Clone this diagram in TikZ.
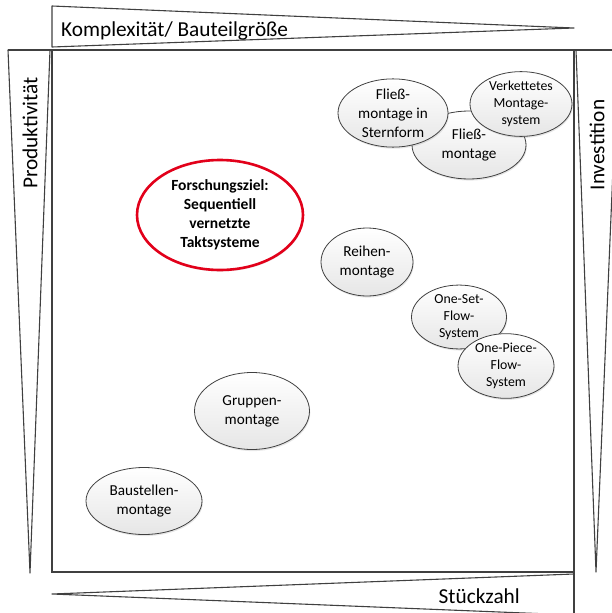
\documentclass[tikz,border=0pt]{standalone}
\usepackage{fontspec}
\setmainfont{Carlito}
\usetikzlibrary{shapes.geometric,shadows}
\definecolor{FrameGray}{HTML}{404040}
\definecolor{BubbleGray}{HTML}{E6E6E6}
\definecolor{TargetRed}{HTML}{E2001A}
\tikzset{
  mgframe/.style={draw=FrameGray, line width=1.3pt},
  mgwedge/.style={draw=FrameGray, line width=1.1pt, line join=round},
  mgaxis/.style={inner sep=0pt, font=\fontsize{21.3}{25}\selectfont},
  mgbubble/.style={
    ellipse,
    draw=FrameGray,
    line width=0.8pt,
    top color=white,
    bottom color=BubbleGray,
    drop shadow={opacity=0.2, shadow xshift=0.8pt, shadow yshift=-1.6pt},
    align=center,
    inner sep=0pt,
    font=\fontsize{15.2}{18.8}\selectfont
  },
  mgsmall/.style={font=\fontsize{13.8}{17}\selectfont},
  mgtarget/.style={
    ellipse,
    draw=TargetRed,
    line width=2.6pt,
    fill=white,
    drop shadow={opacity=0.15, shadow xshift=0.8pt, shadow yshift=-1.6pt},
    align=center,
    inner sep=0pt,
    font=\bfseries\fontsize{15.5}{19}\selectfont
  }
}

\begin{document}
\begin{tikzpicture}[x=1pt, y=-1pt]
  \useasboundingbox (0,0) rectangle (611,613);
  % wedges round the field
  \draw[mgwedge] (52,6) -- (574,28) -- (52,47) -- cycle;
  \draw[mgwedge] (8,50) -- (50,50) -- (30,573) -- cycle;
  \draw[mgwedge] (576,50) -- (618,50) -- (596,572) -- cycle;
  \draw[mgwedge] (574,574) -- (52,594) -- (574,615);
  % field
  \draw[mgframe] (8,50) -- (618,50);
  \draw[mgframe] (52,50) rectangle (574,572);
  \draw[mgframe] (574,572) -- (574,618);

  \node[mgaxis, anchor=west] (complexity) at (61,31) {Komplexität/ Bauteilgröße};
  \node[mgaxis, rotate=90] (productivity) at (30,133) {Produktivität};
  \node[mgaxis, rotate=90] (investment) at (597,145) {Investition};
  \node[mgaxis, anchor=east] (quantity) at (520,596) {Stückzahl};

  % assembly forms
  \node[mgbubble, minimum width=116pt, minimum height=67pt] (baustelle) at (144,501) {Baustellen-\\montage};
  \node[mgbubble, minimum width=115pt, minimum height=77pt] (gruppe) at (252,411) {Gruppen-\\montage};
  \node[mgbubble, minimum width=92pt, minimum height=68pt] (reihe) at (367,262) {Reihen-\\montage};
  \node[mgbubble, mgsmall, minimum width=95pt, minimum height=62pt] (oneset) at (459,317) {One-Set-\\Flow-\\System};
  \node[mgbubble, mgsmall, minimum width=96pt, minimum height=62pt] (onepiece) at (506,366) {One-Piece-\\Flow-\\System};
  \node[mgbubble, minimum width=114pt, minimum height=68pt] (fliess) at (469,145) {Fließ-\\montage};
  \node[mgbubble, minimum width=110pt, minimum height=64pt] (stern) at (393,113) {Fließ-\\montage in\\Sternform};
  \node[mgbubble, mgsmall, minimum width=102pt, minimum height=63pt] (verkettet) at (521,104) {Verkettetes\\Montage-\\system};

  \node[mgtarget, minimum width=166pt, minimum height=110pt] (target) at (220,215) {Forschungsziel:\\Sequentiell\\vernetzte\\Taktsysteme};
\end{tikzpicture}
\end{document}
